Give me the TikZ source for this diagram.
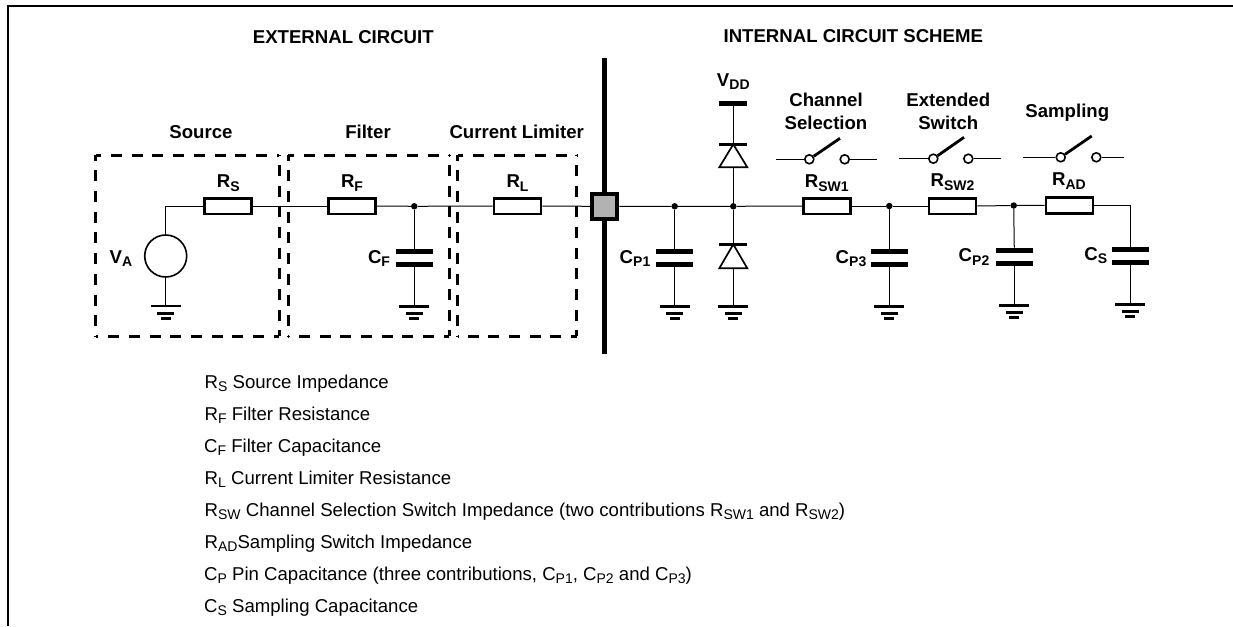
\documentclass[tikz,border=0pt]{standalone}
\usepackage{fontspec}
\setmainfont{Liberation Sans}
\newcommand{\lowr}[1]{\raisebox{-3.4pt}{\fontsize{14pt}{14pt}\selectfont #1}}
\tikzset{
  wire/.style={line width=1pt,black},
  res/.style={draw,line width=2.7pt,rectangle,minimum width=47pt,minimum height=15.7pt,inner sep=0pt,fill=white},
  plate/.style={fill=black,rectangle,minimum width=37.5pt,minimum height=4.9pt,inner sep=0pt},
  junction/.style={circle,fill=black,minimum size=6.5pt,inner sep=0pt},
  contact/.style={circle,draw,line width=1.6pt,minimum size=9pt,inner sep=0pt,fill=white},
  blab/.style={font=\fontsize{18.6pt}{23pt}\selectfont\bfseries,inner sep=0pt,align=center},
  lab/.style={blab,anchor=base},
  legend/.style={font=\fontsize{18.6pt}{22pt}\selectfont,inner sep=0pt,anchor=base west},
  dbox/.style={line width=3pt,dash pattern=on 11pt off 9.7pt,dash phase=5.4pt},
  gnd/.pic={
    \fill (-15,-1.4) rectangle (15,1.4);
    \fill (-8.5,6) rectangle (8.5,8.7);
    \fill (-5,11) rectangle (5,13.7);
  },
  arm/.style={line width=2.8pt}
}
\begin{document}
\begin{tikzpicture}[x=1pt,y=-1pt]
\useasboundingbox (0,0) rectangle (1233,626);
% frame
\coordinate (fa) at (8,626);
\coordinate (fb) at (8,6);
\coordinate (fc) at (1233,6);
\draw[line width=2pt,line join=miter] (fa) -- (fb) -- (fc);
% headings
\node[lab] (h1) at (343.3,43.3) {EXTERNAL CIRCUIT};
\node[lab] (h2) at (853.3,43) {INTERNAL CIRCUIT SCHEME};
\node[lab] (t1) at (201,138.3) {Source};
\node[lab] (t2) at (368,138.3) {Filter};
\node[lab] (t3) at (516.7,138.3) {Current Limiter};
% dashed boxes
\coordinate (b1a) at (95.7,155); \coordinate (b1b) at (279.3,336);
\coordinate (b2a) at (288.3,155); \coordinate (b2b) at (449.3,336);
\coordinate (b3a) at (457.7,155); \coordinate (b3b) at (576.7,336);
\draw[dbox] (b1a) -- (b1a-|b1b); \draw[dbox] (b1a) -- (b1a|-b1b);
\draw[dbox] (b1b) -- (b1b-|b1a); \draw[dbox] (b1b) -- (b1b|-b1a);
\draw[dbox] (b2a) -- (b2a-|b2b); \draw[dbox] (b2a) -- (b2a|-b2b);
\draw[dbox] (b2b) -- (b2b-|b2a); \draw[dbox] (b2b) -- (b2b|-b2a);
\draw[dbox] (b3a) -- (b3a-|b3b); \draw[dbox] (b3a) -- (b3a|-b3b);
\draw[dbox] (b3b) -- (b3b-|b3a); \draw[dbox] (b3b) -- (b3b|-b3a);
% separator and pad
\coordinate (sa) at (604.5,58); \coordinate (sb) at (604.5,354);
\draw[line width=5pt] (sa) -- (sb);
% main components
\node[draw,circle,line width=1.6pt,minimum size=42pt,inner sep=0pt] (va) at (165.7,256) {};
\node[res] (rs) at (228,206) {};
\node[res] (rf) at (352.3,206) {};
\node[res] (rl) at (517.5,206) {};
\node[res] (rsw1) at (827.3,206) {};
\node[res] (rsw2) at (952.5,206) {};
\node[res] (rad) at (1069.5,205.3) {};
\node[draw,fill=black!30,line width=4.5pt,rectangle,minimum size=25pt,inner sep=0pt] (pad) at (604.7,206.3) {};
\coordinate (vac) at (165.7,206);
\coordinate (vag) at (165.7,306);
\pic at (vag) {gnd};
\draw[wire] (vag) -- (va.south);
\draw[wire] (va.north) -- (vac) -- (rs.west);
\draw[wire] (rs.east) -- (rf.west);
\node[junction] (jf) at (414.3,206.3) {};
\draw[wire] (rf.east) -- (jf) -- (rl.west);
\draw[wire] (rl.east) -- (pad.west);
\node[junction] (jp1) at (674.7,206.3) {};
\node[junction] (jd) at (733.3,206.3) {};
\node[junction] (jp3) at (889.3,206) {};
\node[junction] (jp2) at (1013.7,205.5) {};
\coordinate (je) at (1130.3,205.3);
\draw[wire] (pad.east) -- (jp1) -- (jd) -- (rsw1.west);
\draw[wire] (rsw1.east) -- (jp3) -- (rsw2.west);
\draw[wire] (rsw2.east) -- (jp2) -- (rad.west);
\draw[wire] (rad.east) -- (je);
% capacitors
\node[plate] (cfa) at (414.3,251.3) {}; \node[plate] (cfb) at (414.3,264.3) {};
\coordinate (gf) at (414.3,306.3); \pic at (gf) {gnd};
\draw[wire] (jf) -- (cfa); \draw[wire] (cfb) -- (gf);
\node[plate] (c1a) at (674.7,251.3) {}; \node[plate] (c1b) at (674.7,264.3) {};
\coordinate (g1) at (674.7,306.3); \pic at (g1) {gnd};
\draw[wire] (jp1) -- (c1a); \draw[wire] (c1b) -- (g1);
\node[plate] (c3a) at (889.3,251.3) {}; \node[plate] (c3b) at (889.3,264.3) {};
\coordinate (g3) at (889.3,306.3); \pic at (g3) {gnd};
\draw[wire] (jp3) -- (c3a); \draw[wire] (c3b) -- (g3);
\node[plate] (c2a) at (1014.3,250.3) {}; \node[plate] (c2b) at (1014.3,263.3) {};
\coordinate (g2) at (1014.3,305.3); \pic at (g2) {gnd};
\draw[wire] (jp2) -- (c2a); \draw[wire] (c2b) -- (g2);
\node[plate] (csa) at (1130.3,249.3) {}; \node[plate] (csb) at (1130.3,262.3) {};
\coordinate (gs) at (1130.3,304.3); \pic at (gs) {gnd};
\draw[wire] (je) -- (csa); \draw[wire] (csb) -- (gs);
% diodes
\node[rectangle,fill=black,minimum width=28pt,minimum height=4.8pt,inner sep=0pt] (vdd) at (733.3,103.3) {};
\coordinate (d1k) at (733.3,144.3); \coordinate (d1b) at (733.3,167.3);
\coordinate (d2k) at (733.3,244.3); \coordinate (d2b) at (733.3,268.3);
\coordinate (gd) at (733.3,306.3); \pic at (gd) {gnd};
\draw[wire] (vdd) -- (d1k);
\draw[wire] (d1b) -- (jd) -- (d2k);
\draw[wire] (d2b) -- (gd);
\draw[line width=2.8pt] (719.3,144.3) -- (747.3,144.3);
\draw[line width=1.7pt,line join=miter] (d1k) -- (747.3,167.3) -- (719.3,167.3) -- cycle;
\draw[line width=2.8pt] (719.3,244.3) -- (747.3,244.3);
\draw[line width=1.7pt,line join=miter] (d2k) -- (747.3,268.3) -- (719.3,268.3) -- cycle;
% switches
\coordinate (s1l) at (776,159.3); \coordinate (s1r) at (876.7,159.3); \coordinate (s1e) at (840,138.3);
\node[contact] (s1a) at (809.3,159.3) {}; \node[contact] (s1b) at (844.7,159.3) {};
\draw[wire] (s1l) -- (s1a); \draw[wire] (s1b) -- (s1r); \draw[arm] (s1a) -- (s1e);
\coordinate (s2l) at (899,158.7); \coordinate (s2r) at (1000.7,158.7); \coordinate (s2e) at (964,137.3);
\node[contact] (s2a) at (933.3,158.7) {}; \node[contact] (s2b) at (968.3,158.7) {};
\draw[wire] (s2l) -- (s2a); \draw[wire] (s2b) -- (s2r); \draw[arm] (s2a) -- (s2e);
\coordinate (s3l) at (1023.3,157.3); \coordinate (s3r) at (1123.7,157.3); \coordinate (s3e) at (1091.7,136);
\node[contact] (s3a) at (1060.7,157.3) {}; \node[contact] (s3b) at (1096.3,157.3) {};
\draw[wire] (s3l) -- (s3a); \draw[wire] (s3b) -- (s3r); \draw[arm] (s3a) -- (s3e);
% component labels
\node[lab] (lrs) at (228.3,187.7) {R\lowr{S}};
\node[lab] (lrf) at (352,187.7) {R\lowr{F}};
\node[lab] (lrl) at (517.5,187.7) {R\lowr{L}};
\node[lab] (lva) at (121,263.3) {V\lowr{A}};
\node[lab] (lcf) at (379,263.3) {C\lowr{F}};
\node[lab] (lc1) at (635,263.3) {C\lowr{P1}};
\node[lab] (lc3) at (851,263.3) {C\lowr{P3}};
\node[lab] (lc2) at (974,261.7) {C\lowr{P2}};
\node[lab] (lcs) at (1095.7,260) {C\lowr{S}};
\node[lab] (lvd) at (733.3,86) {V\lowr{DD}};
\node[lab] (lr1) at (826.7,187.7) {R\lowr{SW1}};
\node[lab] (lr2) at (952.5,186.7) {R\lowr{SW2}};
\node[lab] (lra) at (1069,185.7) {R\lowr{AD}};
\node[lab] (ts1a) at (826,106) {Channel};
\node[lab] (ts1b) at (826,129) {Selection};
\node[lab] (ts2a) at (948.3,106) {Extended};
\node[lab] (ts2b) at (948.3,129.3) {Switch};
\node[lab] (ts3) at (1067.3,117.3) {Sampling};
% legend
\node[legend] (l1) at (204.5,388.3) {R\lowr{S} Source Impedance};
\node[legend] (l2) at (204.5,420) {R\lowr{F} Filter Resistance};
\node[legend] (l3) at (204,452) {C\lowr{F} Filter Capacitance};
\node[legend] (l4) at (204.5,484) {R\lowr{L} Current Limiter Resistance};
\node[legend] (l5) at (204.5,516) {R\lowr{SW} Channel Selection Switch Impedance (two contributions R\lowr{SW1} and R\lowr{SW2})};
\node[legend] (l6) at (204.5,548) {R\lowr{AD}Sampling Switch Impedance};
\node[legend] (l7) at (204,580) {C\lowr{P} Pin Capacitance (three contributions, C\lowr{P1}, C\lowr{P2} and C\lowr{P3})};
\node[legend] (l8) at (204,612) {C\lowr{S} Sampling Capacitance};
\end{tikzpicture}
\end{document}
